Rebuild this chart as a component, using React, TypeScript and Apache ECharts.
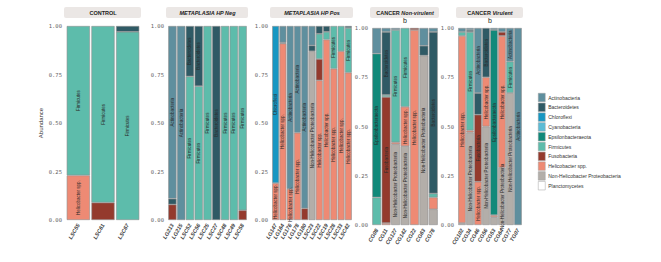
import React, { useEffect, useRef } from 'react';
import * as echarts from 'echarts';

const taxa = [
  'Actinobacteria',
  'Bacteroidetes',
  'Chloroflexi',
  'Cyanobacteria',
  'Epsilonbacteraeota',
  'Firmicutes',
  'Fusobacteria',
  'Helicobacter spp.',
  'Non-Helicobacter Proteobacteria',
  'Planctomycetes',
];
const taxaColors = ['#5f8f9e', '#2f5a65', '#1797c2', '#5bbcd6', '#11897a', '#5dbcab', '#943a2d', '#ee8a74', '#b3aea9', '#ffffff'];

const yTicks = [0, 0.25, 0.5, 0.75, 1];

// values per taxon (in taxa order), one entry per sample
const controlSamples = ['LSC55', 'LSC61', 'LSC67'];
const controlValues = [
  [0, 0, 0],
  [0, 0, 0.03],
  [0, 0, 0],
  [0, 0, 0],
  [0, 0, 0],
  [0.77, 0.91, 0.97],
  [0, 0.09, 0],
  [0.23, 0, 0],
  [0, 0, 0],
  [0, 0, 0],
];

const hpNegSamples = ['LG213', 'LG215', 'LSC52', 'LSC56', 'LSC25', 'LSC27', 'LSC48', 'LSC49', 'LSC58'];
const hpNegValues = [
  [0.89, 1, 0, 0, 0, 0, 0, 0, 0],
  [0.03, 0, 0.26, 0.31, 0, 1, 0, 0, 0],
  [0, 0, 0, 0, 0, 0, 0, 0, 0],
  [0, 0, 0, 0, 0, 0, 0, 0, 0],
  [0, 0, 0, 0, 0, 0, 0, 0, 0],
  [0, 0, 0.74, 0.69, 1, 0, 1, 1, 0.95],
  [0.08, 0, 0, 0, 0, 0, 0, 0, 0.05],
  [0, 0, 0, 0, 0, 0, 0, 0, 0],
  [0, 0, 0, 0, 0, 0, 0, 0, 0],
  [0, 0, 0, 0, 0, 0, 0, 0, 0],
];

const hpPosSamples = ['LG147', 'LG164', 'LG176', 'LG178', 'LG180', 'LSC23', 'LSC22', 'LSC19', 'LSC28', 'LSC33', 'LSC42'];
const hpPosValues = [
  [0, 0.085, 0.84, 0.55, 0.94, 0.1, 0, 0, 0, 0, 0],
  [0, 0.005, 0, 0, 0, 0.03, 0.04, 0.03, 0, 0, 0.01],
  [0.81, 0, 0, 0, 0, 0, 0, 0, 0, 0, 0],
  [0, 0, 0, 0, 0, 0, 0, 0, 0, 0, 0],
  [0, 0, 0, 0, 0, 0, 0, 0, 0, 0, 0],
  [0, 0, 0, 0, 0, 0, 0.13, 0.04, 0.22, 0.13, 0.23],
  [0, 0, 0, 0, 0.06, 0, 0.11, 0, 0, 0, 0],
  [0.19, 0.91, 0.16, 0.45, 0, 0, 0.72, 0.93, 0.78, 0.87, 0.76],
  [0, 0, 0, 0, 0, 0.87, 0, 0, 0, 0, 0],
  [0, 0, 0, 0, 0, 0, 0, 0, 0, 0, 0],
];

const nonVirSamples = ['CG08', 'CG11', 'CG127', 'CG142', 'CG22', 'CG63', 'CG78'];
const nonVirValues = [
  [0.13, 0.02, 0.01, 0, 0, 0.09, 0.02],
  [0, 0.32, 0, 0, 0, 0.05, 0.82],
  [0, 0, 0, 0, 0, 0, 0],
  [0, 0, 0, 0, 0, 0, 0],
  [0.73, 0, 0, 0, 0, 0, 0],
  [0.14, 0.01, 0.57, 0.4, 0, 0, 0.02],
  [0, 0.64, 0, 0, 0.01, 0, 0],
  [0, 0.01, 0.01, 0.2, 0.99, 0, 0.06],
  [0, 0, 0.41, 0.4, 0, 0.86, 0.08],
  [0, 0, 0, 0, 0, 0, 0],
];

const virSamples = ['CG102', 'CG34', 'CG46', 'CG56', 'CG53', 'CG64', 'CG77', 'TG07'];
const virValues = [
  [0.02, 0.01, 0.33, 0, 0.01, 0.02, 0.17, 1],
  [0, 0.01, 0.11, 0.25, 0, 0, 0, 0],
  [0, 0, 0, 0, 0, 0, 0, 0],
  [0, 0, 0, 0, 0, 0, 0, 0],
  [0, 0, 0, 0, 0.94, 0, 0, 0],
  [0.02, 0.5, 0, 0, 0, 0, 0.16, 0],
  [0, 0, 0.34, 0, 0, 0.02, 0, 0],
  [0.95, 0.01, 0.22, 0.25, 0.01, 0.67, 0, 0],
  [0.01, 0.47, 0, 0.5, 0.04, 0.29, 0.67, 0],
  [0, 0, 0, 0, 0, 0, 0, 0],
];

const panelTitles = [
  '{b|CONTROL}',
  '{i|METAPLASIA HP Neg}',
  '{i|METAPLASIA HP Pos}',
  '{b|CANCER }{i|Non-virulent}',
  '{b|CANCER }{i|Virulent}',
];
const panelMarks = ['', '', '', 'b', 'b'];

const panelSamples = [controlSamples, hpNegSamples, hpPosSamples, nonVirSamples, virSamples];
const panelValues = [controlValues, hpNegValues, hpPosValues, nonVirValues, virValues];

const layouts = [
  { left: 66, top: 26, width: 74, height: 194 },
  { left: 168, top: 26, width: 79, height: 194 },
  { left: 272, top: 26, width: 80, height: 194 },
  { left: 372, top: 28, width: 66, height: 197 },
  { left: 458, top: 28, width: 64, height: 197 },
];

const FONT = '"Liberation Sans Narrow", "Liberation Sans", Arial, sans-serif';

export default function App() {
  const ref = useRef<HTMLDivElement>(null);
  useEffect(() => {
    if (!ref.current) return;
    const chart = echarts.init(ref.current, undefined, { renderer: 'svg' });

    const grid = layouts.map((l) => ({ ...l, containLabel: false }));
    const xAxis = panelSamples.map((s, i) => ({
      type: 'category',
      gridIndex: i,
      data: s,
      axisLine: { show: false },
      axisTick: { show: false },
      axisLabel: {
        interval: 0,
        rotate: 60,
        margin: 4,
        fontSize: 5.5,
        fontStyle: 'italic',
        fontWeight: 'bold',
        color: '#444',
        fontFamily: FONT,
      },
    }));
    const yAxis = panelSamples.map((_, i) => ({
      type: 'value',
      gridIndex: i,
      min: yTicks[0],
      max: yTicks[yTicks.length - 1],
      interval: 0.25,
      axisLine: { show: false },
      axisTick: { show: false },
      splitLine: { show: false },
      axisLabel: {
        fontSize: 5.5,
        color: '#666',
        margin: 4,
        fontFamily: '"DejaVu Sans Mono", monospace',
        formatter: (v: number) => v.toFixed(2),
      },
    }));

    const series: any[] = [];
    panelValues.forEach((vals, p) => {
      for (let t = taxa.length - 1; t >= 0; t--) {
        series.push({
          type: 'bar',
          name: taxa[t],
          xAxisIndex: p,
          yAxisIndex: p,
          stack: 'panel' + p,
          barCategoryGap: '6%',
          data: vals[t].map((v) => (v > 0 ? v : '-')),
          itemStyle: { color: taxaColors[t], borderColor: '#8e8e8e', borderWidth: 0.6 },
          label: {
            show: true,
            position: 'inside',
            rotate: 90,
            fontSize: 4.5,
            color: '#2a2a2a',
            fontFamily: FONT,
            formatter: (pr: any) => (typeof pr.value === 'number' && pr.value >= 0.15 ? pr.seriesName : ''),
          },
        });
      }
    });

    const graphic: any[] = [];
    const title: any[] = [];
    layouts.forEach((l, i) => {
      graphic.push({
        type: 'rect',
        shape: { x: l.left - 2, y: 7, width: l.width + 3, height: 11, r: 2 },
        style: { fill: '#ebe7e5' },
        silent: true,
      });
      graphic.push({
        type: 'text',
        x: l.left + l.width / 2,
        y: 12.5,
        style: {
          text: panelTitles[i],
          align: 'center',
          verticalAlign: 'middle',
          rich: {
            b: { fontSize: 5.5, fontWeight: 'bold', fill: '#222', fontFamily: FONT },
            i: { fontSize: 5.5, fontWeight: 'bold', fontStyle: 'italic', fill: '#222', fontFamily: FONT },
          },
        },
      });
      if (panelMarks[i]) {
        title.push({
          text: panelMarks[i],
          left: l.left + l.width / 2 - 2,
          top: 17,
          padding: 0,
          textStyle: { fontSize: 7, fontWeight: 'normal', color: '#222222', fontFamily: FONT },
        });
      }
    });
    graphic.push({
      type: 'text',
      x: 41,
      y: 123,
      rotation: Math.PI / 2,
      style: {
        text: 'Abundance',
        align: 'center',
        verticalAlign: 'middle',
        fontSize: 6,
        fill: '#333',
        fontFamily: FONT,
      },
    });

    chart.setOption({
      animation: false,
      backgroundColor: '#ffffff',
      title,
      grid,
      xAxis,
      yAxis,
      series,
      graphic,
      legend: {
        orient: 'vertical',
        left: 533,
        top: 88,
        data: taxa,
        icon: 'rect',
        itemWidth: 7,
        itemHeight: 8.5,
        itemGap: 0.8,
        itemStyle: { borderColor: '#a0a0a0', borderWidth: 0.5 },
        textStyle: { fontSize: 5, color: '#333', fontFamily: FONT, padding: [0, 0, 0, -2] },
      },
    });
    return () => chart.dispose();
  }, []);
  return (
    <div
      ref={ref}
      style={{ position: 'fixed', left: 0, top: 0, width: 661, height: 262, background: '#fff' }}
    />
  );
}
